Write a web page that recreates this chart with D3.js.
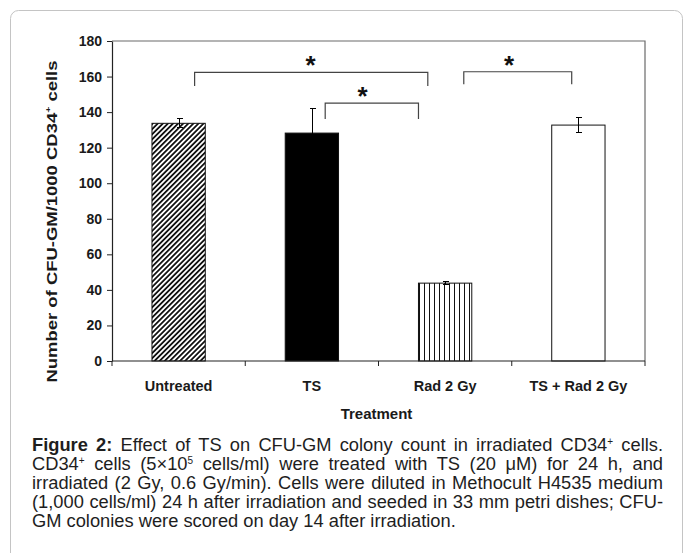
<!DOCTYPE html>
<html>
<head>
<meta charset="utf-8">
<script src="https://cdn.jsdelivr.net/npm/d3@7"></script>
<style>
  body { margin: 0; background: #fff; }
  #fig { position: relative; width: 683px; height: 553px; overflow: hidden; }
  #fig svg { position: absolute; left: 0; top: 0; }
  .caption { position: absolute; left: 32px; width: 631px; font-family: "Liberation Sans", Arial, sans-serif;
             font-size: 18.3px; line-height: 19px; color: #1e1e1e; }
  .caption div { text-align: justify; text-align-last: justify; white-space: nowrap; }
  .caption div.last { text-align-last: left; }
  .caption sup { font-size: 10px; line-height: 0; vertical-align: 6px; }
</style>
</head>
<body>
<div id="fig"></div>
<script>
// data
const categories = ["Untreated", "TS", "Rad 2 Gy", "TS + Rad 2 Gy"];
const means = [133.7, 128.2, 43.8, 132.7];
const errs = [2.5, 13.6, 1.0, 4.3];
const yTicks = [0, 20, 40, 60, 80, 100, 120, 140, 160, 180];

// significance brackets (x in category index units, y in value units)
const bracketFrom = [0.12, 1.10, 2.14];
const bracketTo = [1.87, 1.80, 2.95];
const bracketTop = [162.4, 145.0, 162.7];
const bracketLeg = [7.7, 8.9, 7.0];
const starAt = [0.99, 1.38, 2.48];

const captionLines = [
  "<b>Figure 2:</b> Effect of TS on CFU-GM colony count in irradiated CD34<sup>+</sup> cells.",
  "CD34<sup>+</sup> cells (5×10<sup>5</sup> cells/ml) were treated with TS (20 μM) for 24 h, and",
  "irradiated (2 Gy, 0.6 Gy/min). Cells were diluted in Methocult H4535 medium",
  "(1,000 cells/ml) 24 h after irradiation and seeded in 33 mm petri dishes; CFU-",
  "GM colonies were scored on day 14 after irradiation."
];

const W = 683, H = 553;
const plotL = 112, plotR = 645, plotT = 41, plotB = 361;
const fontFam = "'Liberation Sans', Arial, sans-serif";

const svg = d3.select("#fig").append("svg")
  .attr("width", W)
  .attr("height", H);

// outer rounded frame
svg.append("rect")
  .attr("x", 10.5).attr("y", 10.5)
  .attr("width", 672).attr("height", 580)
  .attr("rx", 8)
  .attr("fill", "none")
  .attr("stroke", "#c4c4c4");

const defs = svg.append("defs");
const diag = defs.append("pattern")
  .attr("id", "diag")
  .attr("patternUnits", "userSpaceOnUse")
  .attr("width", 3.6).attr("height", 3.6)
  .attr("patternTransform", "rotate(45)");
diag.append("rect").attr("width", 3.6).attr("height", 3.6).attr("fill", "#fff");
diag.append("line").attr("x1", 0.9).attr("x2", 0.9).attr("y1", 0).attr("y2", 3.6)
  .attr("stroke", "#111").attr("stroke-width", 1.8);

const vert = defs.append("pattern")
  .attr("id", "vert")
  .attr("patternUnits", "userSpaceOnUse")
  .attr("x", 419)
  .attr("width", 5).attr("height", 10);
vert.append("rect").attr("width", 5).attr("height", 10).attr("fill", "#fff");
vert.append("line").attr("x1", 0.5).attr("x2", 0.5).attr("y1", 0).attr("y2", 10)
  .attr("stroke", "#111").attr("stroke-width", 1);

const fills = ["url(#diag)", "#000", "url(#vert)", "#fff"];

const x = d3.scaleBand()
  .domain(categories)
  .range([plotL, plotR])
  .paddingInner(0.6)
  .paddingOuter(0.3);

const xi = d3.scaleLinear()
  .domain([-0.5, categories.length - 0.5])
  .range([plotL, plotR]);

const y = d3.scaleLinear()
  .domain([0, 180])
  .range([plotB, plotT]);

// plot frame (top and right)
svg.append("path")
  .attr("d", `M${plotL},${plotT}H${plotR}V${plotB}`)
  .attr("fill", "none")
  .attr("stroke", "#6a6a6a")
  .attr("stroke-width", 1.2);

// bars
svg.append("g").selectAll("rect")
  .data(categories)
  .join("rect")
  .attr("x", d => x(d))
  .attr("y", (d, i) => y(means[i]))
  .attr("width", x.bandwidth())
  .attr("height", (d, i) => y(0) - y(means[i]))
  .attr("fill", (d, i) => fills[i])
  .attr("stroke", "#111")
  .attr("stroke-width", 1);

// error bars
const eb = svg.append("g")
  .attr("stroke", "#000")
  .attr("stroke-width", 1)
  .attr("shape-rendering", "crispEdges");
categories.forEach((c, i) => {
  const cx = Math.round(x(c) + x.bandwidth() / 2) + 0.5;
  eb.append("line").attr("x1", cx).attr("x2", cx)
    .attr("y1", y(means[i] - errs[i])).attr("y2", y(means[i] + errs[i]));
  [means[i] - errs[i], means[i] + errs[i]].forEach(v => {
    eb.append("line").attr("x1", cx - 3).attr("x2", cx + 3)
      .attr("y1", y(v)).attr("y2", y(v));
  });
});

// y axis
const yAxis = svg.append("g")
  .attr("transform", `translate(${plotL},0)`)
  .call(d3.axisLeft(y).tickValues(yTicks).tickSize(5).tickSizeOuter(0).tickPadding(5));
yAxis.select(".domain").attr("stroke", "#222").attr("stroke-width", 1.2);
yAxis.selectAll(".tick line").attr("stroke", "#222");
yAxis.selectAll(".tick text")
  .attr("font-family", fontFam)
  .attr("font-size", 14)
  .attr("font-weight", "bold")
  .attr("fill", "#1a1a1a");

// x axis line and boundary ticks
svg.append("line")
  .attr("x1", plotL).attr("x2", plotR)
  .attr("y1", plotB).attr("y2", plotB)
  .attr("stroke", "#222").attr("stroke-width", 1.2);
svg.append("g").selectAll("line")
  .data(d3.range(categories.length + 1))
  .join("line")
  .attr("x1", d => xi(d - 0.5)).attr("x2", d => xi(d - 0.5))
  .attr("y1", plotB).attr("y2", plotB + 5)
  .attr("stroke", "#222");

const xAxis = svg.append("g")
  .attr("transform", `translate(0,${plotB})`)
  .call(d3.axisBottom(x).tickSize(0).tickPadding(20));
xAxis.select(".domain").remove();
xAxis.selectAll(".tick text")
  .attr("font-family", fontFam)
  .attr("font-size", 14.5)
  .attr("font-weight", "bold")
  .attr("fill", "#1a1a1a");

// axis titles
svg.append("text")
  .attr("x", (plotL + plotR) / 2 - 2)
  .attr("y", 419)
  .attr("text-anchor", "middle")
  .attr("font-family", fontFam)
  .attr("font-size", 15)
  .attr("font-weight", "bold")
  .attr("fill", "#1a1a1a")
  .text("Treatment");

const yt = svg.append("text")
  .attr("transform", "translate(57,221.5) rotate(-90)")
  .attr("text-anchor", "middle")
  .attr("font-family", fontFam)
  .attr("font-size", 14)
  .attr("font-weight", "bold")
  .attr("fill", "#1a1a1a")
  .attr("textLength", 322)
  .attr("lengthAdjust", "spacingAndGlyphs");
yt.append("tspan").text("Number of CFU-GM/1000 CD34");
yt.append("tspan").attr("font-size", 8).attr("dy", -6).text("+");
yt.append("tspan").attr("dy", 6).text(" cells");

// significance brackets
const br = svg.append("g");
bracketFrom.forEach((f, i) => {
  const x1 = xi(f), x2 = xi(bracketTo[i]);
  const yt0 = y(bracketTop[i]), yl = y(bracketTop[i] - bracketLeg[i]);
  br.append("path")
    .attr("d", `M${x1},${yl}V${yt0}H${x2}V${yl}`)
    .attr("fill", "none")
    .attr("stroke", "#444")
    .attr("stroke-width", 1.2);
  br.append("text")
    .attr("x", xi(starAt[i]))
    .attr("y", yt0 + 2)
    .attr("text-anchor", "middle")
    .attr("font-family", fontFam)
    .attr("font-size", 26)
    .attr("font-weight", "bold")
    .attr("fill", "#111")
    .text("*");
});

// caption
const cap = d3.select("#fig").append("div")
  .attr("class", "caption")
  .style("top", "435px");
cap.selectAll("div")
  .data(captionLines)
  .join("div")
  .classed("last", (d, i) => i === captionLines.length - 1)
  .html(d => d);
</script>
</body>
</html>
